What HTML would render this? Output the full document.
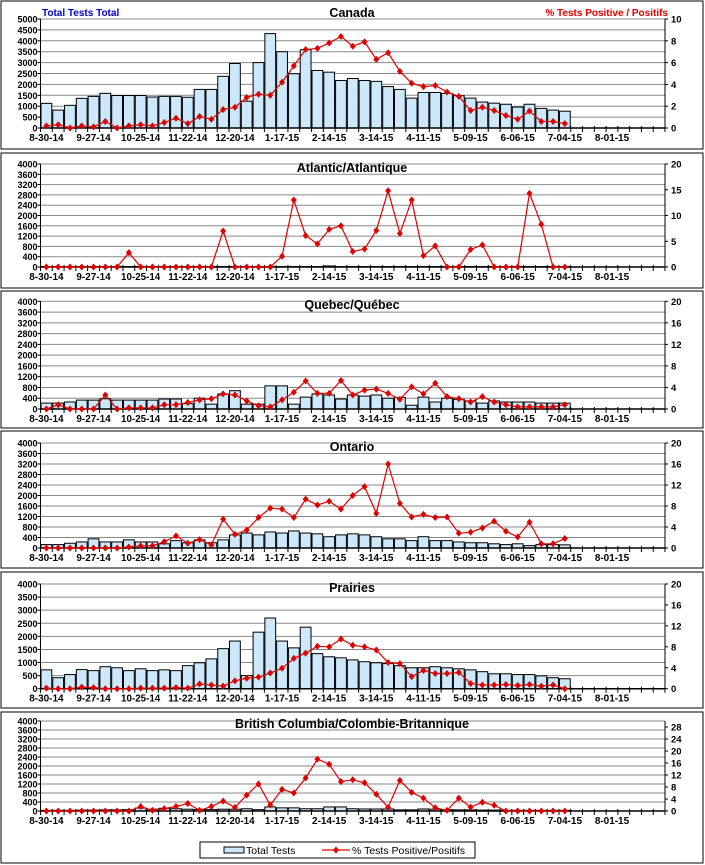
<!DOCTYPE html>
<html><head><meta charset="utf-8"><style>
html,body{margin:0;padding:0;background:#fff;}
svg{display:block;font-family:"Liberation Sans",Arial,sans-serif;}
</style></head><body>
<svg id="s" width="705" height="865" xmlns="http://www.w3.org/2000/svg"></svg>
<script>
var X0=40.5,X1=665,N=53,W=(X1-X0)/N;
var labels=["8-30-14","9-27-14","10-25-14","11-22-14","12-20-14","1-17-15","2-14-15","3-14-15","4-11-15","5-09-15","6-06-15","7-04-15","8-01-15"];
var panels=[
{box:[1,1,702,148],top:19,bot:128,lmax:5000,lstep:500,rmax:10,rstep:2,title:"Canada",ty:17,
 bars:[1130,820,1040,1360,1450,1590,1490,1490,1490,1420,1450,1450,1410,1770,1770,2370,2960,1230,3000,4330,3500,2490,3590,2640,2560,2180,2270,2180,2140,1900,1770,1370,1630,1630,1590,1480,1370,1190,1140,1090,960,1090,900,820,770],
 pct:[0.2,0.3,0,0.2,0.1,0.6,0,0.2,0.3,0.2,0.5,0.9,0.4,1.05,0.8,1.7,1.9,2.8,3.1,3.0,4.2,5.7,7.2,7.3,7.8,8.4,7.5,7.9,6.3,6.9,5.2,4.1,3.8,3.9,3.3,2.9,1.6,1.9,1.6,1.15,0.8,1.55,0.6,0.6,0.4]},
{box:[1,153,702,135],top:164,bot:267,lmax:4000,lstep:400,rmax:20,rstep:5,title:"Atlantic/Atlantique",ty:172,
 bars:[15,15,15,15,15,15,15,15,15,15,15,15,15,15,15,15,15,15,15,15,15,15,15,15,40,15,15,15,15,15,15,15,15,15,15,15,15,15,15,15,15,15,15,15,15],
 pct:[0,0,0,0,0,0,0,2.8,0,0,0,0,0,0,0,7,0,0,0,0,2.1,13,6.1,4.5,7.3,8,3,3.5,7.1,14.8,6.5,13,2.2,4.1,0,0,3.4,4.3,0,0,0,14.3,8.3,0,0]},
{box:[1,291,702,137],top:301.3,bot:409,lmax:4000,lstep:400,rmax:20,rstep:4,title:"Quebec/Québec",ty:309,
 bars:[220,220,260,330,330,380,330,330,330,330,370,370,200,400,180,560,680,180,180,860,860,180,440,560,520,370,520,480,520,400,430,140,440,260,400,360,300,220,300,260,260,260,220,220,220],
 pct:[0,0.8,0,0,0,2.6,0,0.2,0.2,0.2,0.8,0.8,1.2,1.7,1.9,2.8,2.6,1.5,0.6,0.4,1.7,3.1,5.2,2.9,2.9,5.3,2.6,3.5,3.7,2.9,1.8,4.1,2.8,4.8,2.3,1.9,1.3,2.3,1.3,0.8,0.4,0.4,0.4,0.4,0.8]},
{box:[1,431,702,137],top:443,bot:548,lmax:4000,lstep:400,rmax:20,rstep:4,title:"Ontario",ty:451,
 bars:[130,130,180,230,350,230,230,310,230,230,160,280,200,310,200,310,500,570,500,610,570,650,570,540,430,500,540,500,430,350,350,280,430,280,280,230,200,200,160,130,160,90,130,130,120],
 pct:[0,0,0,0,0,0,0,0.2,0.4,0.4,1.2,2.3,0.9,1.6,0.6,5.5,2.6,3.4,5.8,7.6,7.4,5.8,9.3,8.2,8.9,7.4,10,11.7,6.6,16,8.5,5.9,6.4,5.8,5.9,2.8,3,3.8,5.1,3.2,2.1,4.9,0.8,0.8,1.8]},
{box:[1,572,702,136],top:584,bot:688.7,lmax:4000,lstep:500,rmax:20,rstep:4,title:"Prairies",ty:592,
 bars:[720,420,540,730,690,840,800,690,760,690,720,690,880,990,1140,1530,1820,500,2160,2700,1820,1560,2350,1340,1220,1180,1100,1030,990,960,880,800,800,840,800,760,720,650,570,570,540,540,490,420,380],
 pct:[0.1,0,0,0.3,0.2,0,0,0,0.1,0.1,0.1,0.2,0.1,0.9,0.7,0.5,1.5,2,2.2,3,3.9,5.8,6.8,8.1,8,9.5,8.3,8,7.4,5,4.8,2.3,3.5,2.9,2.9,3.1,1,0.7,0.7,0.8,0.6,0.8,0.5,0.7,0]},
{box:[1,712,702,151],top:721,bot:811,lmax:4000,lstep:400,rmax:30,rstep:4,rlabmax:28,title:"British Columbia/Colombie-Britannique",ty:728,
 bars:[30,30,30,40,40,50,50,60,130,80,120,100,80,60,60,80,80,100,60,180,140,140,100,100,180,180,100,90,90,90,50,50,90,80,60,50,50,40,40,30,30,30,30,30,30],
 pct:[0,0,0,0,0,0,0,0,1.5,0.2,0.8,1.5,2.5,0.2,1.5,3.3,1.2,5.3,9,2,7.2,6,11,17.3,15.6,9.8,10.4,9.4,5.6,1.2,10.2,6.2,4.3,1.1,0.2,4.3,1.3,2.9,1.9,0,0,0,0,0,0]}
];
var h='';
panels.forEach(function(p){
 var b=p.box;
 h+='<rect x="'+b[0]+'" y="'+b[1]+'" width="'+b[2]+'" height="'+b[3]+'" fill="#fff" stroke="#000" stroke-width="1"/>';
 var H=p.bot-p.top;
 // gridlines + left labels
 for(var v=0;v<=p.lmax;v+=p.lstep){
  var y=p.bot-v/p.lmax*H;
  h+='<line x1="'+X0+'" x2="'+X1+'" y1="'+y+'" y2="'+y+'" stroke="#888" stroke-width="1"/>';
  h+='<line x1="'+(X0-3)+'" x2="'+X0+'" y1="'+y+'" y2="'+y+'" stroke="#000"/>';
  h+='<text x="'+(X0-3)+'" y="'+(y+3.5)+'" font-size="9.5" font-weight="bold" text-anchor="end" textLength="'+(String(v).length*5)+'" lengthAdjust="spacingAndGlyphs">'+v+'</text>';
 }
 var rm=p.rlabmax||p.rmax;
 for(var v=0;v<=rm;v+=p.rstep){
  var y=p.bot-v/p.rmax*H;
  h+='<line x1="'+X1+'" x2="'+(X1+3)+'" y1="'+y+'" y2="'+y+'" stroke="#000"/>';
  h+='<text x="'+(X1+6)+'" y="'+(y+3.5)+'" font-size="9.5" font-weight="bold">'+v+'</text>';
 }
 // bars
 p.bars.forEach(function(v,i){
  var x=X0+i*W+0.5, bh=v/p.lmax*H;
  h+='<rect x="'+x.toFixed(2)+'" y="'+(p.bot-bh).toFixed(2)+'" width="'+(W-1).toFixed(2)+'" height="'+bh.toFixed(2)+'" fill="#cce8fa" stroke="#000" stroke-width="1"/>';
 });
 // axes
 h+='<line x1="'+X0+'" x2="'+X0+'" y1="'+p.top+'" y2="'+p.bot+'" stroke="#000"/>';
 h+='<line x1="'+X1+'" x2="'+X1+'" y1="'+p.top+'" y2="'+p.bot+'" stroke="#000"/>';
 h+='<line x1="'+X0+'" x2="'+X1+'" y1="'+p.bot+'" y2="'+p.bot+'" stroke="#000" stroke-width="1.5"/>';
 for(var i=0;i<=N;i++){var x=X0+i*W;h+='<line x1="'+x+'" x2="'+x+'" y1="'+(p.bot-2)+'" y2="'+(p.bot+4)+'" stroke="#000"/>';}
 labels.forEach(function(l,k){var x=X0+(k*4+0.5)*W;
  h+='<text x="'+x+'" y="'+(p.bot+13)+'" font-size="10" font-weight="bold" text-anchor="middle" textLength="'+(l.length*4.9)+'" lengthAdjust="spacingAndGlyphs">'+l+'</text>';});
 // line
 var pts=p.pct.map(function(v,i){return (X0+(i+0.5)*W).toFixed(2)+','+(p.bot-v/p.rmax*H).toFixed(2);});
 h+='<polyline points="'+pts.join(' ')+'" fill="none" stroke="#e00000" stroke-width="1.2"/>';
 pts.forEach(function(s){var a=s.split(',');var x=+a[0],y=+a[1];
  h+='<path d="M'+x+' '+(y-3.5)+'L'+(x+3)+' '+y+'L'+x+' '+(y+3.5)+'L'+(x-3)+' '+y+'Z" fill="#e00000"/>';});
 h+='<text x="352" y="'+p.ty+'" font-size="12.5" font-weight="bold" text-anchor="middle">'+p.title+'</text>';
});
h+='<text x="42" y="16" font-size="10" font-weight="bold" fill="#0000cc">Total Tests Total</text>';
h+='<text x="668" y="16" font-size="10" font-weight="bold" fill="#e00000" text-anchor="end">% Tests Positive / Positifs</text>';
// legend
h+='<rect x="200" y="842" width="275" height="16" fill="#fff" stroke="#000"/>';
h+='<rect x="224" y="847" width="20" height="6" fill="#cce8fa" stroke="#000"/>';
h+='<text x="246" y="854" font-size="10.5">Total Tests</text>';
h+='<line x1="322" x2="350" y1="850" y2="850" stroke="#e00000" stroke-width="1.2"/>';
h+='<path d="M336 846.5L339 850L336 853.5L333 850Z" fill="#e00000"/>';
h+='<text x="352" y="854" font-size="10.5">% Tests Positive/Positifs</text>';
document.getElementById('s').innerHTML=h;
</script>
</body></html>
